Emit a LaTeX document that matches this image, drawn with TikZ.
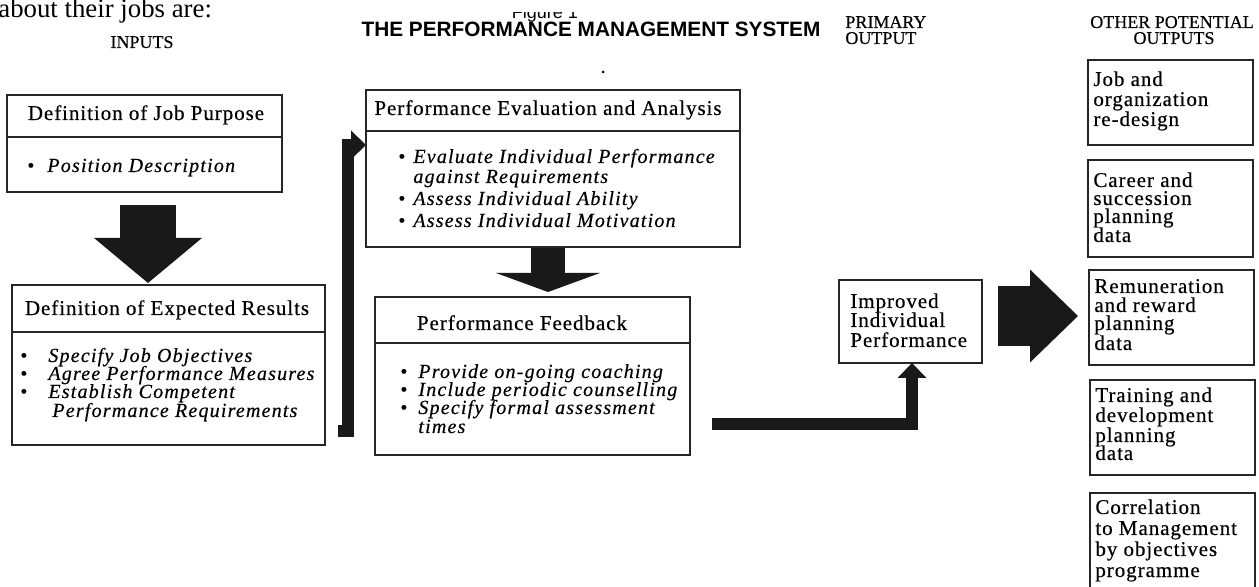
\documentclass[tikz,border=0pt]{standalone}
\usepackage{fontspec}
\setmainfont{Liberation Serif}
\newfontfamily\looseserif{Liberation Serif}[LetterSpace=4.5,FakeBold=0.4]
\newfontfamily\spacedserif{Liberation Serif}[LetterSpace=6,FakeBold=0.4]
\newfontfamily\headserif{Liberation Serif}[FakeBold=0.3]
\newfontfamily\titlesans{Liberation Sans}
\usetikzlibrary{arrows.meta,calc,fit}

\newcommand\boxtext{\looseserif\fontsize{10.5pt}{10.5pt}\selectfont}
\newcommand\itemtext{\spacedserif\itshape\fontsize{10pt}{10pt}\selectfont}
\newcommand\headtext{\headserif\fontsize{9pt}{9pt}\selectfont}

\begin{document}
\begin{tikzpicture}[x=0.5pt,y=-0.5pt,
  panel/.style={draw=black!85,line width=1pt,inner sep=0pt,outer sep=0pt},
  rule/.style={draw=black!85,line width=1pt},
  label/.style={inner sep=0pt,anchor=base west,font=\boxtext},
  clabel/.style={inner sep=0pt,anchor=base,font=\boxtext},
  item/.style={inner sep=0pt,anchor=base west,font=\itemtext},
  heading/.style={inner sep=0pt,anchor=base,font=\headtext},
  bar/.style={draw=black!90,line width=6pt,line join=miter,
    -{Triangle[width=14.5pt,length=7.5pt,line width=0pt]}},
]
\useasboundingbox (0,0) rectangle (1259,587);
\fill[white] (0,0) rectangle (1259,587);

% running text and column headings
\node[inner sep=0pt,anchor=base west,font=\rmfamily\fontsize{13.4pt}{13.4pt}\selectfont] (lead) at (-2,18) {about their jobs are:};
\begin{scope}
  \clip (470,13) rectangle (640,40);
  \node[inner sep=0pt,anchor=base,font=\titlesans\fontsize{9pt}{9pt}\selectfont] (figno) at (545,19) {Figure 1};
\end{scope}
\node[inner sep=0pt,anchor=base,font=\titlesans\bfseries\fontsize{10.4pt}{10.4pt}\selectfont] (system) at (591,37) {THE PERFORMANCE MANAGEMENT SYSTEM};
\fill (603,72) circle (1.5);
\node[heading] (inputs) at (142,48) {INPUTS};
\node[heading,anchor=base west] (primary) at (845,28) {PRIMARY};
\node[heading,anchor=base west] (primary2) at (845,44) {OUTPUT};
\node[heading] (other) at (1172,28) {OTHER POTENTIAL};
\node[heading] (other2) at (1174,44) {OUTPUTS};

% boxes
\node[panel,fit={(7,95) (282,192)}] (purpose) {};
\node[panel,fit={(12,285) (325,445)}] (results) {};
\node[panel,fit={(366,90) (740,247)}] (evaluation) {};
\node[panel,fit={(375,297) (690,455)}] (feedback) {};
\node[panel,fit={(839,280) (982,363)}] (improved) {};
\node[panel,fit={(1088,60) (1253,145)}] (redesign) {};
\node[panel,fit={(1088,160) (1253,257)}] (career) {};
\node[panel,fit={(1089,270) (1254,365)}] (reward) {};
\node[panel,fit={(1090,380) (1255,475)}] (training) {};
\node[panel,fit={(1090,493) (1255,620)}] (mbo) {};

% header rules
\draw[rule] ($(purpose.north west)+(0,42)$) -- ($(purpose.north east)+(0,42)$);
\draw[rule] ($(results.north west)+(0,47)$) -- ($(results.north east)+(0,47)$);
\draw[rule] ($(evaluation.north west)+(0,41)$) -- ($(evaluation.north east)+(0,41)$);
\draw[rule] ($(feedback.north west)+(0,46)$) -- ($(feedback.north east)+(0,46)$);

% inputs
\node[clabel] (purposeT) at (146,120) {Definition of Job Purpose};
\node[item] (purposeA) at (27,172) {\makebox[10pt][l]{\upshape\textbullet}Position Description};
\node[clabel] (resultsT) at (167,315) {Definition of Expected Results};
\node[item] (resultsA) at (20,362) {\makebox[14pt][l]{\upshape\textbullet}Specify Job Objectives};
\node[item] (resultsB) at (20,380) {\makebox[14pt][l]{\upshape\textbullet}Agree Performance Measures};
\node[item] (resultsC) at (20,398) {\makebox[14pt][l]{\upshape\textbullet}Establish Competent};
\node[item] (resultsD) at (52,417) {Performance Requirements};

% system
\node[clabel] (evaluationT) at (548,115) {Performance Evaluation and Analysis};
\node[item] (evaluationA) at (398,163) {\makebox[7.5pt][l]{\upshape\textbullet}Evaluate Individual Performance};
\node[item] (evaluationB) at (413,183) {against Requirements};
\node[item] (evaluationC) at (398,205) {\makebox[7.5pt][l]{\upshape\textbullet}Assess Individual Ability};
\node[item] (evaluationD) at (398,227) {\makebox[7.5pt][l]{\upshape\textbullet}Assess Individual Motivation};
\node[clabel] (feedbackT) at (522,330) {Performance Feedback};
\node[item] (feedbackA) at (400,378) {\makebox[9pt][l]{\upshape\textbullet}Provide on-going coaching};
\node[item] (feedbackB) at (400,396) {\makebox[9pt][l]{\upshape\textbullet}Include periodic counselling};
\node[item] (feedbackC) at (400,414) {\makebox[9pt][l]{\upshape\textbullet}Specify formal assessment};
\node[item] (feedbackD) at (418,433) {times};

% outputs
\node[label] (improvedA) at (850,308) {Improved};
\node[label] (improvedB) at (850,327) {Individual};
\node[label] (improvedC) at (850,347) {Performance};

\node[label] (redesignA) at (1093,86) {Job and};
\node[label] (redesignB) at (1093,106) {organization};
\node[label] (redesignC) at (1093,126) {re-design};
\node[label] (careerA) at (1093,187) {Career and};
\node[label] (careerB) at (1093,205) {succession};
\node[label] (careerC) at (1093,223) {planning};
\node[label] (careerD) at (1093,242) {data};
\node[label] (rewardA) at (1094,293) {Remuneration};
\node[label] (rewardB) at (1094,312) {and reward};
\node[label] (rewardC) at (1094,330) {planning};
\node[label] (rewardD) at (1094,350) {data};
\node[label] (trainingA) at (1095,402) {Training and};
\node[label] (trainingB) at (1095,422) {development};
\node[label] (trainingC) at (1095,442) {planning};
\node[label] (trainingD) at (1095,460) {data};
\node[label] (mboA) at (1095,514) {Correlation};
\node[label] (mboB) at (1095,535) {to Management};
\node[label] (mboC) at (1095,556) {by objectives};
\node[label] (mboD) at (1095,577) {programme};

% block arrows
\draw[draw=black!90,line width=28pt,-{Triangle[width=54pt,length=22.5pt,line width=0pt]}]
  ($(purpose.south)+(3.5,13)$) -- ($(purpose.south |- results.north)+(3.5,-2)$);
\draw[draw=black!90,line width=17pt,-{Triangle[width=52pt,length=9.5pt,line width=0pt]}]
  ($(evaluation.south)+(-5,1)$) -- ($(evaluation.south |- feedback.north)+(-5,-5)$);
\draw[draw=black!90,line width=30pt,-{Triangle[width=46.5pt,length=24pt,line width=0pt]}]
  ($(improved.east)+(16,-5.5)$) -- ($(improved.east -| reward.west)+(-11,-5.5)$);

% flow connectors
\draw[bar] ($(results.south east)+(13,-14)$) -- ++(10,0) |- ($(evaluation.north west)+(0,55)$);
\draw[bar] ($(feedback.south east)+(22,-31)$) -| ($(improved.south)+(1.5,0)$);
\end{tikzpicture}
\end{document}
